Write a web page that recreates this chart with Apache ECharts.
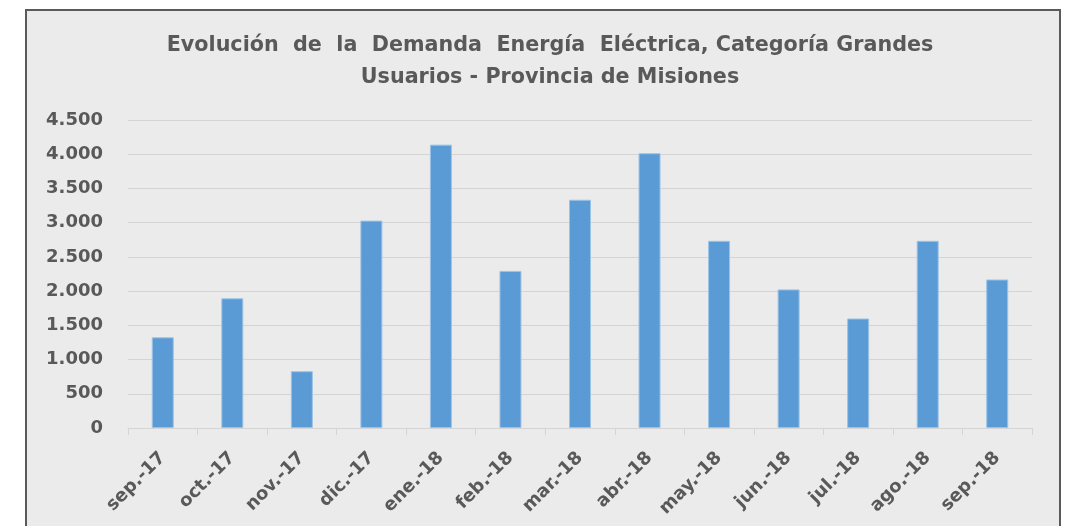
<!DOCTYPE html>
<html>
<head>
<meta charset="utf-8">
<script src="https://cdn.jsdelivr.net/npm/echarts@6/dist/echarts.min.js"></script>
<style>
html,body{margin:0;padding:0;background:#ffffff;}
#chart{width:1072px;height:526px;}
</style>
</head>
<body>
<div id="chart"></div>
<script>
const titleText = 'Evolución  de  la  Demanda  Energía  Eléctrica, Categoría Grandes\nUsuarios - Provincia de Misiones';
const categories = ['sep.-17','oct.-17','nov.-17','dic.-17','ene.-18','feb.-18','mar.-18','abr.-18','may.-18','jun.-18','jul.-18','ago.-18','sep.-18'];
const demanda = [1325, 1895, 830, 3030, 4140, 2295, 3335, 4015, 2735, 2025, 1600, 2735, 2170];
const yMin = 0, yMax = 4500, yStep = 500;

function fmt(v){ return String(v).replace(/\B(?=(\d{3})+(?!\d))/g, '.'); }

const chart = echarts.init(document.getElementById('chart'), null, {renderer:'canvas'});
chart.setOption({
  animation:false,
  backgroundColor:'#ffffff',
  graphic:[{
    type:'rect', z:-10, silent:true,
    shape:{x:26, y:10, width:1034, height:530},
    style:{fill:'#ebebeb', stroke:'#5a5a5a', lineWidth:2}
  }],
  title:{
    text:titleText,
    left:545, textAlign:'center', top:25,
    textStyle:{fontFamily:'DejaVu Sans', fontWeight:'bold', fontSize:20.7, color:'#595959', lineHeight:32}
  },
  grid:{left:128, right:40, top:120, bottom:98, containLabel:false},
  xAxis:{
    type:'category', data:categories, boundaryGap:true,
    axisLine:{lineStyle:{color:'#d4d4d4', width:1}},
    axisTick:{show:true, alignWithLabel:false, length:7, lineStyle:{color:'#d4d4d4'}},
    axisLabel:{rotate:45, interval:0, margin:27, fontFamily:'DejaVu Sans', fontWeight:'bold', fontSize:18, color:'#595959'}
  },
  yAxis:{
    type:'value', min:yMin, max:yMax, interval:yStep,
    axisLine:{show:false}, axisTick:{show:false},
    splitLine:{lineStyle:{color:'#d4d4d4', width:1}},
    axisLabel:{margin:25, formatter:fmt, fontFamily:'DejaVu Sans', fontWeight:'bold', fontSize:18, color:'#595959'}
  },
  series:[{
    type:'bar', data:demanda, barWidth:22,
    itemStyle:{color:'#5b9bd5', borderColor:'#9cc3e6', borderWidth:1}
  }]
});
</script>
</body>
</html>
